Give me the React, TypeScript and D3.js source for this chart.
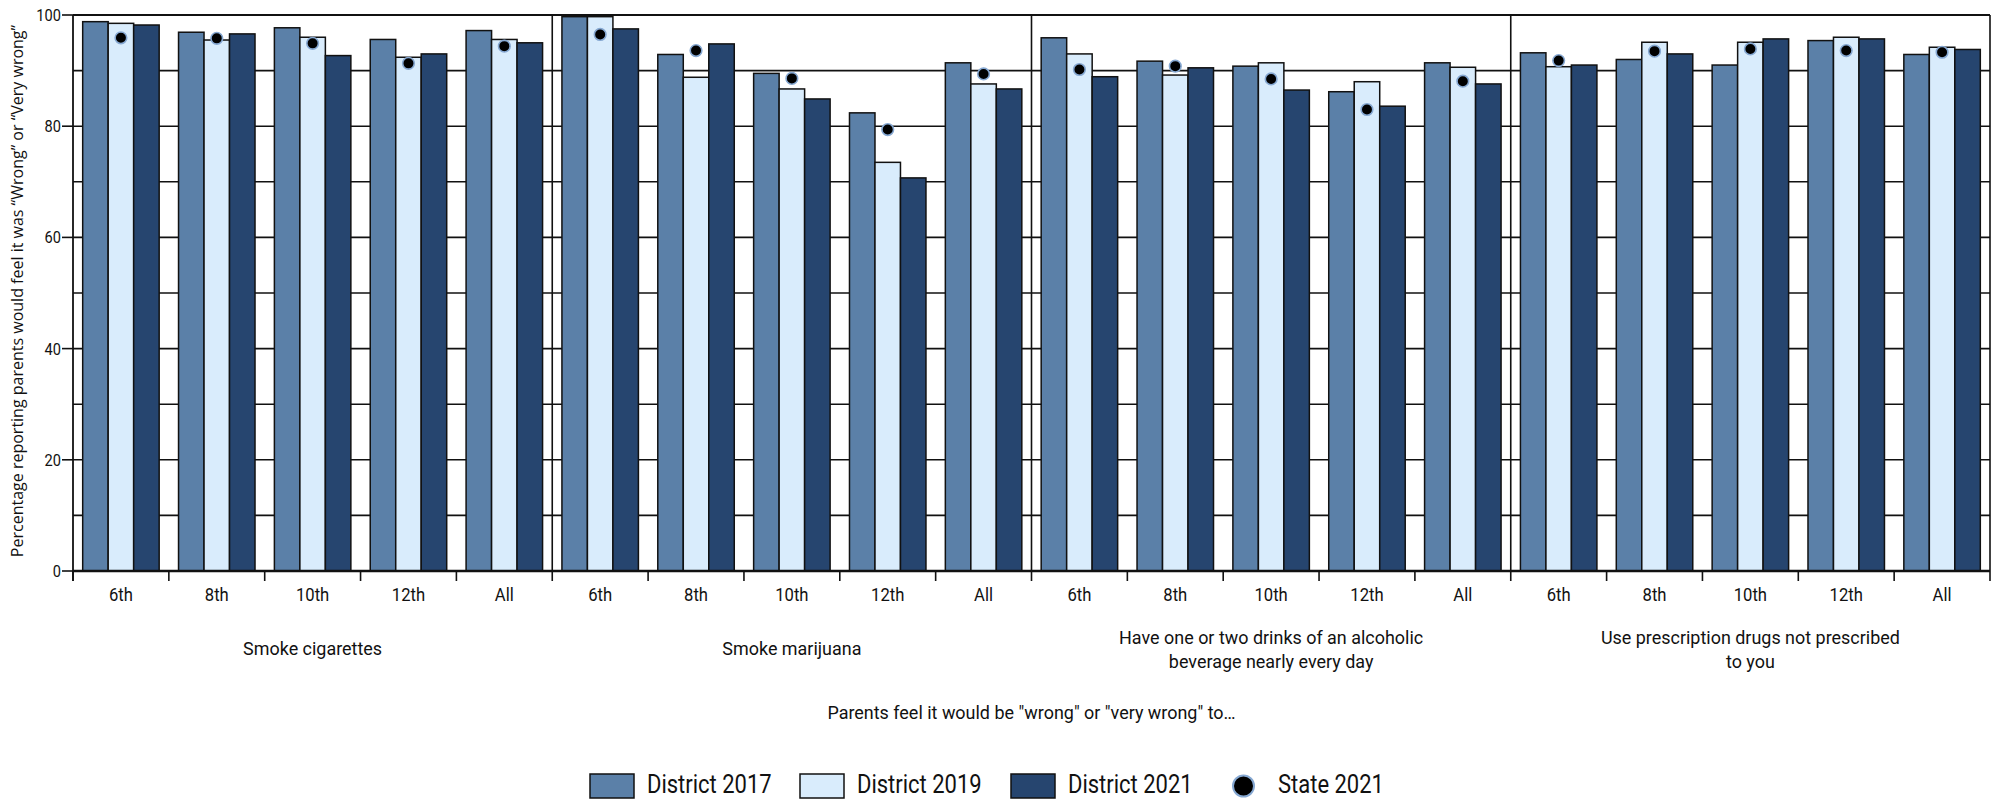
import React from "react";
import * as d3 from "d3";

const panels = [
  "Smoke cigarettes",
  "Smoke marijuana",
  "Have one or two drinks of an alcoholic beverage nearly every day",
  "Use prescription drugs not prescribed to you",
];
const panelLabelLines = [
  ["Smoke cigarettes"],
  ["Smoke marijuana"],
  ["Have one or two drinks of an alcoholic", "beverage nearly every day"],
  ["Use prescription drugs not prescribed", "to you"],
];
const grades = ["6th", "8th", "10th", "12th", "All"];
const seriesNames = ["District 2017", "District 2019", "District 2021"];
const stateName = "State 2021";

const district2017 = [98.8, 96.9, 97.7, 95.6, 97.2, 99.7, 92.9, 89.5, 82.4, 91.4, 95.9, 91.7, 90.8, 86.2, 91.4, 93.2, 92.0, 91.0, 95.4, 92.9];
const district2019 = [98.5, 95.5, 96.0, 92.4, 95.6, 99.7, 88.8, 86.7, 73.5, 87.6, 93.0, 89.2, 91.4, 88.0, 90.6, 90.7, 95.1, 95.1, 96.0, 94.2];
const district2021 = [98.2, 96.6, 92.7, 93.0, 95.0, 97.5, 94.8, 84.9, 70.7, 86.7, 88.9, 90.5, 86.5, 83.6, 87.6, 91.0, 93.0, 95.7, 95.7, 93.8];
const state2021 = [95.9, 95.8, 94.9, 91.3, 94.4, 96.5, 93.6, 88.6, 79.4, 89.4, 90.2, 90.8, 88.5, 83.0, 88.1, 91.8, 93.5, 93.9, 93.6, 93.3];

const yTicks = [0, 20, 40, 60, 80, 100];
const yGrid = [10, 20, 30, 40, 50, 60, 70, 80, 90];

const yTitle = "Percentage reporting parents would feel it was \u201CWrong\u201D or \u201CVery wrong\u201D";
const xTitle = "Parents feel it would be \"wrong\" or \"very wrong\" to\u2026";

const colors = ["#5b80a8", "#d9ecfc", "#26456f"];
const haloColor = "#86a8d2";

const W = 1999;
const H = 804;
const L = 73;
const R = 1990;
const T = 15;
const B = 571;

const COND = "Roboto, 'Open Sans', sans-serif";
const REG = "'Open Sans', 'Noto Sans', sans-serif";

function CText(props: {
  x: number;
  y: number;
  size: number;
  anchor?: string;
  sx?: number;
  children: React.ReactNode;
}) {
  const { x, y, size, anchor = "start", sx = 0.97, children } = props;
  return (
    <text
      transform={`translate(${x},${y}) scale(${sx},1)`}
      textAnchor={anchor as any}
      fontFamily={COND}
      fontSize={size}
      fill="#111"
    >
      {children}
    </text>
  );
}

export default function App() {
  const y = d3.scaleLinear().domain([0, 100]).range([B, T]);
  const px = d3.scaleBand<number>().domain(d3.range(panels.length)).range([L, R]).padding(0);
  const gx = d3.scaleBand<string>().domain(grades).range([0, px.bandwidth()]).padding(0);
  const sx = d3.scaleBand<string>().domain(seriesNames).range([0, gx.bandwidth()]).paddingInner(0).paddingOuter(0.38);

  const seriesData = [district2017, district2019, district2021];

  const groups = d3.range(panels.length * grades.length).map((i) => {
    const p = Math.floor(i / grades.length);
    const g = grades[i % grades.length];
    return { i, p, g, x0: (px(p) as number) + (gx(g) as number) };
  });

  const tickXs = d3.range(panels.length * grades.length + 1).map((k) => L + k * gx.bandwidth());

  const legendX = [590, 800, 1011];

  return (
    <svg width={W} height={H} style={{ position: "absolute", left: 0, top: 0, background: "#fff" }}>
      {yGrid.map((v) => (
        <line key={"g" + v} x1={L} x2={R} y1={y(v)} y2={y(v)} stroke="#111" strokeWidth={1.6} />
      ))}
      {groups.map((gr) =>
        seriesData.map((arr, s) => (
          <rect
            key={`b${gr.i}-${s}`}
            x={gr.x0 + (sx(seriesNames[s]) as number)}
            y={y(arr[gr.i])}
            width={sx.bandwidth()}
            height={y(0) - y(arr[gr.i])}
            fill={colors[s]}
            stroke="#111"
            strokeWidth={1.5}
          />
        ))
      )}
      {groups.map((gr) => (
        <circle
          key={"d" + gr.i}
          cx={gr.x0 + (sx(seriesNames[1]) as number) + sx.bandwidth() / 2}
          cy={y(state2021[gr.i])}
          r={5.8}
          fill="#000"
          stroke={haloColor}
          strokeWidth={1.6}
        />
      ))}
      <line x1={L} x2={R} y1={T} y2={T} stroke="#111" strokeWidth={2.2} />
      {d3.range(1, panels.length + 1).map((p) => {
        const xx = (px(p - 1) as number) + px.bandwidth();
        return <line key={"pd" + p} x1={xx} x2={xx} y1={T} y2={B} stroke="#111" strokeWidth={1.6} />;
      })}
      <line x1={L} x2={L} y1={T} y2={B + 10} stroke="#111" strokeWidth={1.8} />
      {yTicks.map((v) => (
        <g key={"yt" + v}>
          <line x1={L - 11} x2={L} y1={y(v)} y2={y(v)} stroke="#111" strokeWidth={1.6} />
          <CText x={L - 12} y={y(v) + 6} size={17} anchor="end" sx={0.86}>
            {v}
          </CText>
        </g>
      ))}
      <line x1={L} x2={R} y1={B} y2={B} stroke="#111" strokeWidth={2.6} />
      {tickXs.map((xx, k) => (
        <line key={"xt" + k} x1={xx} x2={xx} y1={B} y2={B + 10} stroke="#111" strokeWidth={1.6} />
      ))}
      {groups.map((gr) => (
        <CText key={"xl" + gr.i} x={gr.x0 + gx.bandwidth() / 2} y={601} size={18.5} anchor="middle" sx={0.9}>
          {gr.g}
        </CText>
      ))}
      {panelLabelLines.map((lines, p) => {
        const cx = (px(p) as number) + px.bandwidth() / 2;
        const base = lines.length === 1 ? 655 : 644;
        return (
          <g key={"pl" + p}>
            {lines.map((ln, j) => (
              <CText key={j} x={cx} y={base + j * 24} size={18.5} anchor="middle">
                {ln}
              </CText>
            ))}
          </g>
        );
      })}
      <CText x={(L + R) / 2} y={719} size={18.5} anchor="middle">
        {xTitle}
      </CText>
      <text
        transform={`translate(23, ${(T + B) / 2 - 2}) rotate(-90)`}
        textAnchor="middle"
        fontFamily={REG}
        fontSize={16}
        fill="#111"
      >
        {yTitle}
      </text>
      {seriesNames.map((nm, s) => (
        <g key={"lg" + s}>
          <rect x={legendX[s]} y={774} width={44} height={24} fill={colors[s]} stroke="#111" strokeWidth={1.5} />
          <CText x={legendX[s] + 57} y={793} size={25} sx={0.88}>
            {nm}
          </CText>
        </g>
      ))}
      <circle cx={1243.5} cy={786} r={10.5} fill="#000" stroke={haloColor} strokeWidth={2} />
      <CText x={1278} y={793} size={25} sx={0.88}>
        {stateName}
      </CText>
    </svg>
  );
}
